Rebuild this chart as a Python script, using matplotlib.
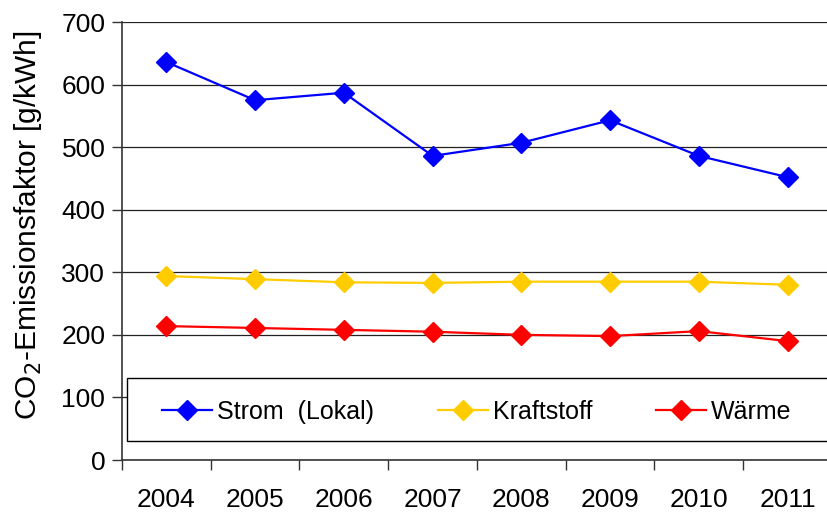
import matplotlib
matplotlib.use("Agg")
import matplotlib.pyplot as plt
from matplotlib.patches import Rectangle
import numpy as np

years = ["2004", "2005", "2006", "2007", "2008", "2009", "2010", "2011"]
strom = [636, 575, 587, 486, 507, 543, 486, 452]
kraftstoff = [294, 289, 284, 283, 285, 285, 285, 280]
waerme = [214, 211, 208, 205, 200, 198, 206, 190]
series_names = ["Strom  (Lokal)", "Kraftstoff", "Wärme"]
colors = ["#0000FF", "#FFCC00", "#FF0000"]
yticks = [0, 100, 200, 300, 400, 500, 600, 700]

plt.rcParams['font.family'] = ['Liberation Sans', 'DejaVu Sans']

fig = plt.figure(figsize=(8.28, 5.13), dpi=100)
ax = fig.add_axes([122/828, 1-460/513, 710/828, 438/513])

x = np.arange(len(years)) + 0.5
for vals, name, c in zip([strom, kraftstoff, waerme], series_names, colors):
    ax.plot(x, vals, color=c, lw=1.6, marker='D', ms=10.5, mec=c, mfc=c, label=name, clip_on=False)

ax.set_xlim(0, len(years))
ax.set_ylim(0, 700)
ax.set_yticks(yticks)
ax.set_yticklabels([str(v) for v in yticks], fontsize=19)
ax.set_xticks(np.arange(len(years) + 1))
ax.set_xticklabels([])
ax.set_xticks(x, minor=True)
ax.set_xticklabels(years, minor=True, fontsize=19)
ax.tick_params(axis='x', which='minor', length=0, pad=20)
ax.tick_params(axis='x', which='major', length=7, width=1, color='#333333', direction='out')
ax.tick_params(axis='y', length=7, width=1, color='#333333', direction='out', pad=5)

ax.grid(axis='y', color='#222222', lw=0.9)
ax.set_axisbelow(True)
for s in ['top', 'right']:
    ax.spines[s].set_visible(False)
for s in ['left', 'bottom']:
    ax.spines[s].set_color('#333333')
    ax.spines[s].set_linewidth(1.2)

ax.set_ylabel("CO$_2$-Emissionsfaktor [g/kWh]", fontsize=21.5)
ax.yaxis.label.set_va('center')
ax.yaxis.set_label_coords(-0.133, 0.537)

# legend frame
frame = Rectangle((5/710, 19/438), 1.0, 63/438, transform=ax.transAxes, fill=True,
                  facecolor='white', edgecolor='black', lw=1.0, clip_on=False, zorder=4)
ax.add_patch(frame)
leg = ax.legend(loc='center left', bbox_to_anchor=(40/710, 48/438), ncol=3, fontsize=18,
                frameon=False, handlelength=2.0, handletextpad=0.2, columnspacing=2.55,
                borderaxespad=0, borderpad=0)
leg.set_zorder(5)

fig.savefig("out.png", dpi=100)
